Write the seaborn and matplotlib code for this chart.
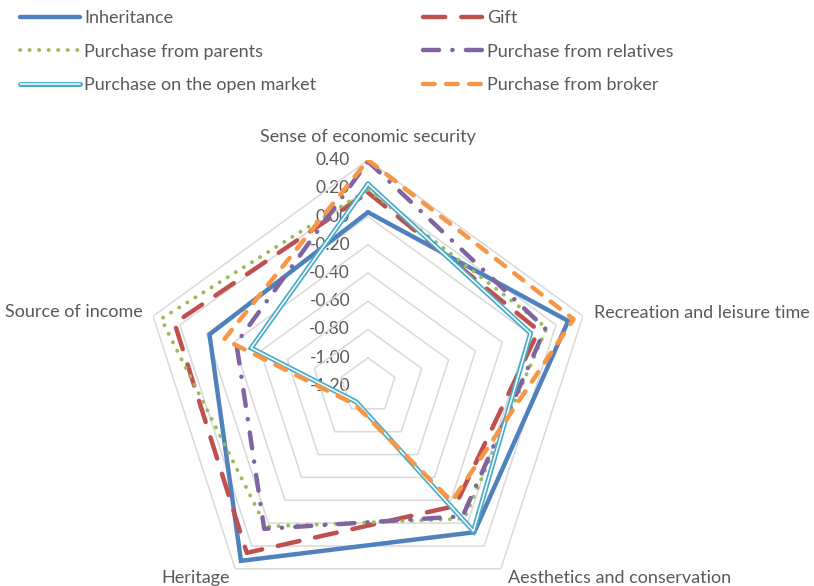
import numpy as np
import seaborn as sns
import matplotlib
matplotlib.use("Agg")
import matplotlib.pyplot as plt
import matplotlib.patheffects as pe

# --- data -------------------------------------------------------------------
categories = ["Sense of economic security", "Recreation and leisure time",
              "Aesthetics and conservation", "Heritage", "Source of income"]

inheritance = [0.03, 0.29, 0.08, 0.33, -0.02]
gift = [0.17, 0.07, -0.15, 0.26, 0.24]
from_parents = [0.19, 0.13, -0.04, 0.03, 0.34]
from_relatives = [0.39, 0.12, -0.06, 0.05, -0.22]
open_market = [0.23, 0.01, 0.07, -1.06, -0.33]
from_broker = [0.40, 0.33, -0.19, -1.04, -0.13]

series_names = ["Inheritance", "Gift", "Purchase from parents",
                "Purchase from relatives", "Purchase on the open market",
                "Purchase from broker"]
series_values = [inheritance, gift, from_parents, from_relatives,
                 open_market, from_broker]

r_ticks = [-1.20, -1.00, -0.80, -0.60, -0.40, -0.20, 0.00, 0.20, 0.40]
tick_labels = ["-1.20", "-1.00", "-0.80", "-0.60", "-0.40", "-0.20",
               "0.00", "0.20", "0.40"]

# --- style ------------------------------------------------------------------
sns.set_theme(style="white")
plt.rcParams["font.family"] = ["Lato", "DejaVu Sans"]
TEXT = "#595959"
GRID = "#D9D9D9"

colors = ["#4F81BD", "#C0504D", "#9BBB59", "#8064A2", "#4BACC6", "#F79646"]

W, H = 814, 586
fig = plt.figure(figsize=(W / 100, H / 100), dpi=100)

cx, cy, R = 368, 386, 226  # plot centre and outer radius in pixels
ax = fig.add_axes([(cx - R) / W, (H - cy - R) / H, 2 * R / W, 2 * R / H],
                  projection="polar")
ax.set_theta_zero_location("N")
ax.set_theta_direction(-1)
ax.set_ylim(r_ticks[0], r_ticks[-1])
ax.grid(False)
ax.set_xticks([])
ax.set_yticks([])
ax.spines["polar"].set_visible(False)
ax.patch.set_alpha(0)

n = len(categories)
theta = np.linspace(0, 2 * np.pi, n, endpoint=False)
theta_closed = np.append(theta, 2 * np.pi)

# pentagon gridlines
for t in r_ticks[1:]:
    ax.plot(theta_closed, [t] * (n + 1), color=GRID, lw=1.1, zorder=1)

# value labels along the top axis
for t, lab in zip(r_ticks, tick_labels):
    ax.annotate(lab, xy=(0, t), xytext=(-18, 0), textcoords="offset pixels",
                ha="right", va="center", fontsize=12.5, color=TEXT,
                zorder=0)

# category labels
cat_offsets = [((0, 15), "center", "bottom"),
               ((11, 3), "left", "center"),
               ((7, -9), "left", "center"),
               ((-5, -9), "right", "center"),
               ((-10, 4), "right", "center")]
for ang, cat, (off, ha, va) in zip(theta, categories, cat_offsets):
    ax.annotate(cat, xy=(ang, r_ticks[-1]), xytext=off,
                textcoords="offset pixels", ha=ha, va=va,
                fontsize=13, color=TEXT)

# series
handles = []
for i, (name, vals) in enumerate(zip(series_names, series_values)):
    closed = list(vals) + [vals[0]]
    sns.lineplot(x=theta_closed, y=closed, sort=False, ax=ax,
                 color=colors[i], lw=3.2, label=name, legend=False,
                 zorder=3 + i)
    line = ax.lines[-1]
    line.set_solid_capstyle("round")
    line.set_solid_joinstyle("miter")
    if name == "Gift":
        line.set_dashes((5.0, 3.6))
        line.set_dash_capstyle("round")
    elif name == "Purchase from parents":
        line.set_linewidth(2.8)
        line.set_dashes((0.05, 2.4))
        line.set_dash_capstyle("round")
    elif name == "Purchase from relatives":
        line.set_dashes((3.6, 3.0, 0.05, 3.0))
        line.set_dash_capstyle("round")
    elif name == "Purchase on the open market":
        line.set_color("white")
        line.set_linewidth(1.1)
        line.set_path_effects([pe.Stroke(linewidth=3.6, foreground=colors[i]),
                               pe.Normal()])
    elif name == "Purchase from broker":
        line.set_dashes((2.6, 2.6))
        line.set_dash_capstyle("round")
    handles.append(line)

ax.set_xlabel("")
ax.set_ylabel("")

# legend: two columns, three rows
order = [0, 2, 4, 1, 3, 5]
fig.legend([handles[k] for k in order], [series_names[k] for k in order],
           ncol=2, loc="upper left", bbox_to_anchor=(20 / W, 1 - 10 / H),
           frameon=False, fontsize=13, labelcolor=TEXT,
           handlelength=3.3, handletextpad=0.25, columnspacing=5.9,
           labelspacing=0.97, borderpad=0, borderaxespad=0)

fig.savefig("out.png", dpi=100)
